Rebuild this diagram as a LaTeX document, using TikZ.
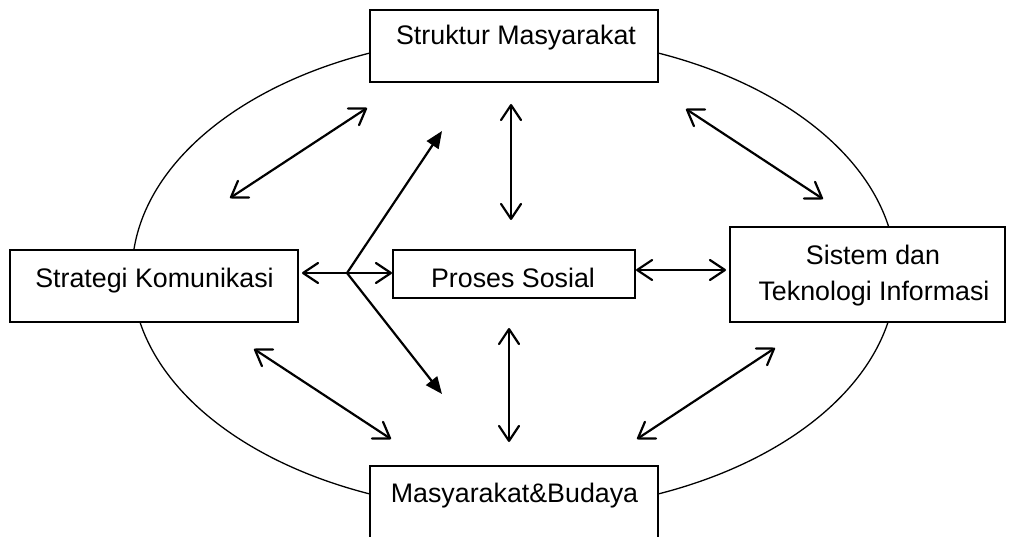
\documentclass[tikz,border=0pt]{standalone}
\usepackage{fontspec}
\setmainfont{Liberation Sans}
\usetikzlibrary{arrows.meta}
\begin{document}
\begin{tikzpicture}[x=1pt,y=-1pt,
  box/.style={draw, line width=1.6pt, fill=white, inner sep=0pt},
  lbl/.style={font=\fontsize{26.8}{35}\selectfont, inner sep=0pt, anchor=base},
  dbl/.style={line width=2.2pt, line cap=round,
    {Straight Barb[length=15pt,width=20pt,line join=round,line cap=round]}-{Straight Barb[length=15pt,width=20pt,line join=round,line cap=round]}},
  sgl/.style={line width=2.2pt, -{Triangle[length=17pt,width=14pt]}}]
\useasboundingbox (0,0) rectangle (1011,537);
\clip (0,0) rectangle (1011,537);
% ellipse
\draw[line width=1.3pt] (514,273.5) ellipse [x radius=382, y radius=238];
% boxes
\node[box, minimum width=288pt, minimum height=72pt] (sm) at (514,46) {};
\node[box, minimum width=288pt, minimum height=72pt] (sk) at (154,286) {};
\node[box, minimum width=242pt, minimum height=48pt] (ps) at (514,274) {};
\node[box, minimum width=275pt, minimum height=95pt] (st) at (867.5,274.5) {};
\node[box, minimum width=288pt, minimum height=100pt] (mb) at (514,516) {};
% labels
\node[lbl] (tsm) at (516,45) {Struktur Masyarakat};
\node[lbl] (tsk) at (154.5,287) {Strategi Komunikasi};
\node[lbl] (tps) at (513,287) {Proses Sosial};
\node[lbl] (tsta) at (873,265) {Sistem dan};
\node[lbl] (tstb) at (874,300) {Teknologi Informasi};
\node[lbl] (tmb) at (514.5,502) {Masyarakat\&Budaya};
% arrow end points
\coordinate (ul1) at (230,198); \coordinate (ul2) at (367,108);
\coordinate (ur1) at (686,109); \coordinate (ur2) at (823,199);
\coordinate (ll1) at (254,349); \coordinate (ll2) at (391,439);
\coordinate (lr1) at (775,348); \coordinate (lr2) at (637,439);
\coordinate (vt1) at (511,104); \coordinate (vt2) at (511,220);
\coordinate (vb1) at (509,328); \coordinate (vb2) at (509,442);
\coordinate (hl1) at (302,273); \coordinate (hl2) at (392,273);
\coordinate (hr1) at (636,270); \coordinate (hr2) at (726,270);
\coordinate (br) at (347,273);
\coordinate (du) at (442,131); \coordinate (dd) at (442,394);
% arrows
\draw[dbl] (ul1) -- (ul2);
\draw[dbl] (ur1) -- (ur2);
\draw[dbl] (ll1) -- (ll2);
\draw[dbl] (lr1) -- (lr2);
\draw[dbl] (vt1) -- (vt2);
\draw[dbl] (vb1) -- (vb2);
\draw[dbl] (hl1) -- (hl2);
\draw[dbl] (hr1) -- (hr2);
\draw[sgl] (br) -- (du);
\draw[sgl] (br) -- (dd);
\end{tikzpicture}
\end{document}
